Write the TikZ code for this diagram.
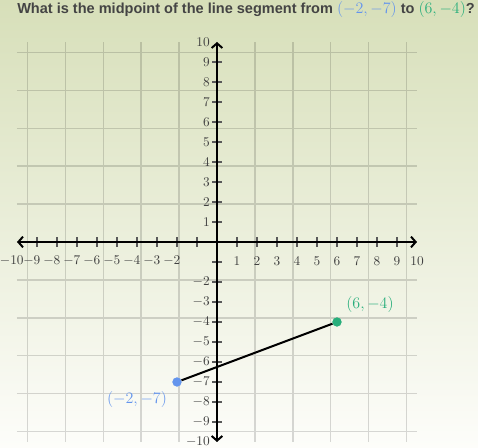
\documentclass[tikz,border=0pt]{standalone}
\usepackage{fontspec}
\setsansfont{Liberation Sans}
\usetikzlibrary{arrows.meta, positioning}
\usepackage{xcolor}
\definecolor{bgtop}{RGB}{215,223,185}
\definecolor{bgbottom}{RGB}{253,253,250}
\definecolor{titlegray}{RGB}{68,68,68}
\definecolor{ptblue}{RGB}{100,149,237}
\definecolor{ptgreen}{RGB}{40,174,123}
\tikzset{
  gridline/.style = {draw=black, opacity=0.15, line width=1pt},
  axis/.style     = {line width=1.5pt, -{Straight Barb[length=3.5pt, width=8pt]}},
  tick/.style     = {draw=black!65, line width=1.2pt},
  ticklabel/.style= {font=\fontsize{10}{12}\selectfont, text=black!75, inner sep=0pt},
  dot/.style      = {circle, inner sep=0pt, minimum size=6.8pt},
  ptlabel/.style  = {font=\fontsize{12.5}{14}\selectfont, inner sep=0pt},
}

\begin{document}
\begin{tikzpicture}[x=15pt, y=15pt]

% background
\shade[top color=bgtop, bottom color=bgbottom] (-10.85,-10.3) rectangle (13.05,12.1);
\useasboundingbox (-10.85,-10.3) rectangle (13.05,12.1);

% question
\node[anchor=base west, inner sep=0pt, text=titlegray,
      font=\sffamily\bfseries\fontsize{10.9}{12}\selectfont] (question) at (-10,11.4)
  {What is the midpoint of the line segment from
   {\mdseries\fontsize{12.6}{14}\selectfont\color{ptblue}$(-2,-7)$} to
   {\mdseries\fontsize{12.6}{14}\selectfont\color{ptgreen}$(6,-4)$}?};

% grid
\draw[gridline] (-10,-10) grid (10,10);

% ticks
\foreach \i in {-9,...,-1,1,2,...,9} {
  \draw[tick] (\i,-0.25) -- (\i,0.25);
  \draw[tick] (-0.25,\i) -- (0.25,\i);
}

% axes
\coordinate (xleft) at (-10,0);
\coordinate (xright) at (10,0);
\coordinate (ybottom) at (0,-10);
\coordinate (ytop) at (0,10);
\draw[axis] (0,0) -- (xright);
\draw[axis] (0,0) -- (xleft);
\draw[axis] (0,0) -- (ytop);
\draw[axis] (0,0) -- (ybottom);

% tick labels
\foreach \i in {1,...,10} {
  \node[ticklabel] (xp\i) at (\i,-0.95) {$\i$};
  \node[ticklabel, anchor=east] (yp\i) at (-0.35,\i) {$\i$};
}
\foreach \i in {2,...,10} {
  \node[ticklabel] (xn\i) at (-\i,-0.95) {\llap{$-$}$\i$};
  \node[ticklabel, anchor=east] (yn\i) at (-0.35,-\i) {$-\i$};
}

% segment and end points
\node[dot, fill=ptblue] (P) at (-2,-7) {};
\node[dot, fill=ptgreen] (Q) at (6,-4) {};
\draw[line width=1.5pt] (P) -- (Q);
\node[dot, fill=ptblue] at (P) {};
\node[dot, fill=ptgreen] at (Q) {};

\node[ptlabel, text=ptblue] (Plabel) at (-4,-7.9) {$(-2,-7)$};
\node[ptlabel, text=ptgreen] (Qlabel) at (7.65,-3.15) {$(6,-4)$};

\end{tikzpicture}
\end{document}
